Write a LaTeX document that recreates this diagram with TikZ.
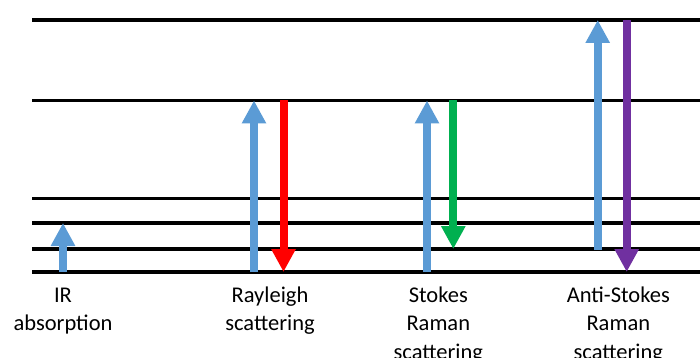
\documentclass[tikz,border=0pt]{standalone}
\usepackage{fontspec}
\setmainfont{Carlito}
\usetikzlibrary{arrows.meta}
\definecolor{upblue}{HTML}{5B9BD5}
\definecolor{downred}{HTML}{FF0000}
\definecolor{downgreen}{HTML}{00B050}
\definecolor{downpurple}{HTML}{7030A0}
\begin{document}
\begin{tikzpicture}[x=1pt,y=-1pt,
  level/.style={line width=3.2pt, black},
  trans/.style={line width=8pt, -{Triangle[width=23pt,length=23pt]}},
  lbl/.style={align=center, inner sep=0pt, anchor=base, font=\fontsize{22.5}{28.5}\selectfont}]
\clip (0,0) rectangle (700,358);
% energy levels
\foreach \n/\y in {A/20,B/100.5,C/198.5,D/223,E/249,F/272}{
  \coordinate (\n l) at (32,\y);
  \coordinate (\n r) at (702,\y);
  \draw[level] (\n l) -- (\n r);
}
% arrow end points
\coordinate (ir0) at (63,272);     \coordinate (ir1) at (63,223);
\coordinate (ry0) at (254,272);    \coordinate (ry1) at (254,100.5);
\coordinate (rr0) at (283.5,100.5);\coordinate (rr1) at (283.5,272);
\coordinate (sb0) at (427,272);    \coordinate (sb1) at (427,100.5);
\coordinate (sg0) at (453.3,100.5);\coordinate (sg1) at (453.3,249);
\coordinate (ab0) at (597.7,250);  \coordinate (ab1) at (597.7,20);
\coordinate (ap0) at (626.7,20);   \coordinate (ap1) at (626.7,272);
\draw[trans, upblue] (ir0) -- (ir1);
\draw[trans, upblue] (ry0) -- (ry1);
\draw[trans, downred] (rr0) -- (rr1);
\draw[trans, upblue] (sb0) -- (sb1);
\draw[trans, downgreen] (sg0) -- (sg1);
\draw[trans, upblue] (ab0) -- (ab1);
\draw[trans, downpurple] (ap0) -- (ap1);
% labels (base anchor = baseline of last line)
\node[lbl] (tir) at (63,330.5) {IR\\absorption};
\node[lbl] (tray) at (270,330.5) {Rayleigh\\scattering};
\node[lbl] (tst) at (438.3,359) {Stokes\\Raman\\scattering};
\node[lbl] (tas) at (618.3,359) {Anti-Stokes\\Raman\\scattering};
\end{tikzpicture}
\end{document}
